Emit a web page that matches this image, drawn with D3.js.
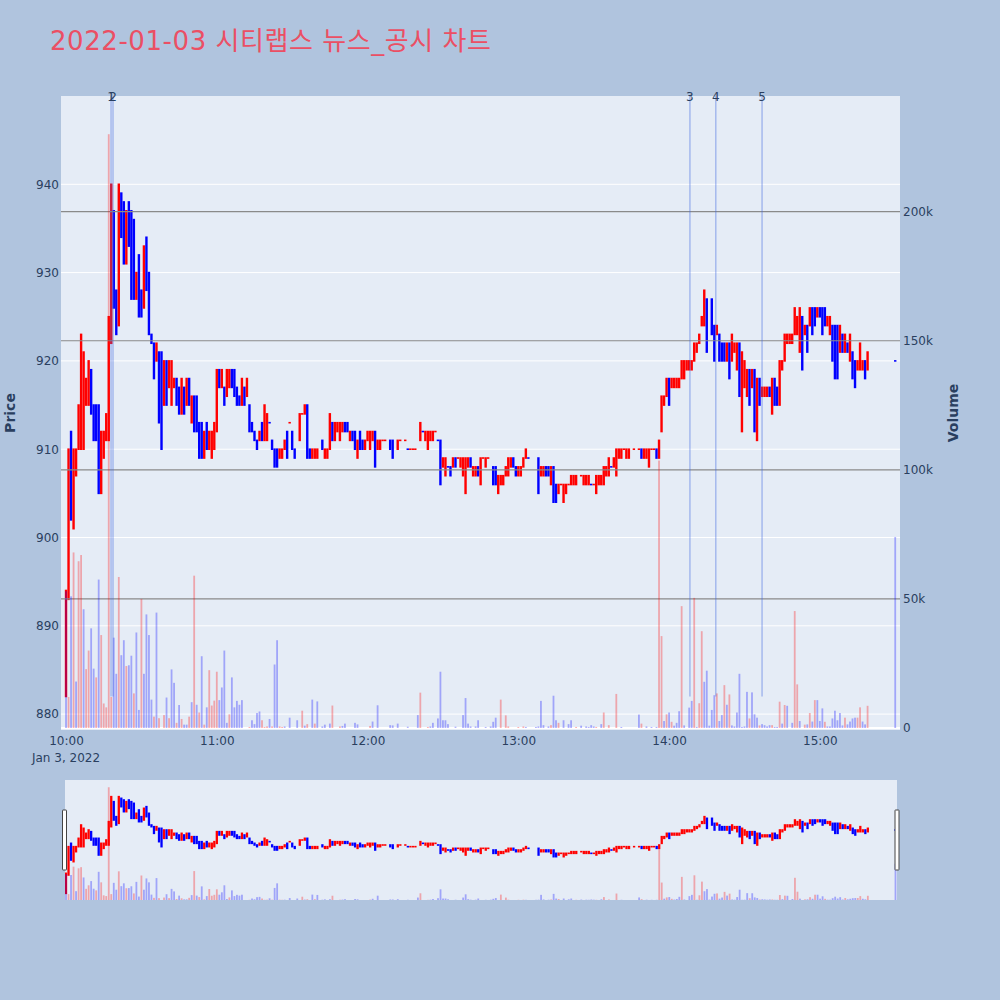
<!DOCTYPE html>
<html><head><meta charset="utf-8">
<script src="https://cdn.jsdelivr.net/npm/d3@7/dist/d3.min.js"></script>
<style>
body{margin:0;background:#b0c4de;}
svg{display:block;font-family:"DejaVu Sans","Noto Sans CJK KR",sans-serif;}
</style></head>
<body><svg id="c" width="1000" height="1000"></svg>
<script>
const titleText = "2022-01-03 시티랩스 뉴스_공시 차트";
const sessionDay = "2022-01-03";
const sessionStart = "2022-01-03 10:00:00";
const dateLabel = "Jan 3, 2022";
// [minute after 10:00, open, high, low, close]
const candles = [
[0,882,894,882,894],[1,893,910,893,909],[2,912,912,902,903],[3,903,910,901,909],[4,907,910,907,910],
[5,910,915,910,915],[6,910,923,910,921],[7,911,921,910,918],[8,915,918,915,918],[9,915,920,915,920],
[10,919,919,914,914],[11,915,915,911,911],[12,915,915,911,912],[13,915,915,905,905],[14,905,912,905,909],
[15,909,912,909,912],[16,911,914,911,914],[17,911,925,911,925],[18,922,940,922,938],[19,937,937,926,927],
[20,928,928,923,926],[21,924,940,924,940],[22,939,939,934,934],[23,938,938,931,931],[24,931,937,931,937],
[25,938,938,933,933],[26,937,937,927,927],[27,936,936,927,927],[28,927,930,927,930],[29,932,932,925,925],
[30,928,928,925,925],[31,926,933,926,933],[32,934,934,928,928],[33,930,930,923,923],[34,923,923,922,922],
[35,922,922,918,918],[36,920,922,920,922],[37,921,921,913,913],[38,921,921,910,910],[39,915,920,915,920],
[40,920,920,915,915],[41,917,920,917,920],[42,915,920,915,920],[43,917,918,917,918],[44,918,918,915,915],
[45,917,917,914,914],[46,914,918,914,918],[47,917,917,914,914],[48,915,918,915,918],[49,918,918,915,915],
[50,913,916,913,916],[51,916,916,912,912],[52,916,916,912,912],[53,913,913,909,909],[54,913,913,909,909],
[55,909,912,909,912],[56,913,913,910,910],[57,910,912,910,912],[58,909,912,909,911],[59,910,913,910,913],
[60,913,919,912,919],[61,919,919,917,917],[62,917,919,917,919],[63,917,917,915,915],[64,916,919,916,919],
[65,917,919,917,919],[66,919,919,917,917],[67,919,919,916,916],[68,917,917,915,915],[69,916,916,915,915],
[70,915,918,915,918],[71,917,917,915,915],[72,916,918,916,918],[73,915,915,912,912],[74,913,913,912,912],
[75,912,912,911,911],[76,911,911,910,910],[77,911,912,911,912],[78,913,913,911,911],[79,911,915,911,915],
[80,911,914,911,914],[81,913,913,913,913],[82,911,911,910,910],[83,910,910,908,908],[84,910,910,908,908],
[85,909,910,909,910],[86,909,910,909,910],[87,910,911,910,911],[88,912,912,909,909],[89,913,913,913,913],
[90,912,912,910,910],[91,910,910,909,909],[93,911,914,911,914],[94,914,914,914,914],
[95,914,915,914,915],[96,915,915,909,909],[97,910,910,909,909],[98,909,910,909,910],[99,909,910,909,910],
[100,909,910,909,910],[102,911,911,910,910],[103,909,910,909,910],[104,909,910,909,910],
[105,910,914,910,914],[106,913,913,911,911],[107,911,913,911,913],[108,912,913,912,913],[109,911,913,911,913],
[110,912,913,912,913],[111,913,913,912,912],[112,913,913,912,912],[113,911,912,911,912],[114,912,912,911,911],
[115,912,912,910,910],[116,909,911,909,911],[117,912,912,910,910],[118,911,911,910,910],[119,910,911,910,911],
[120,911,912,911,912],[121,910,912,910,912],[122,911,912,911,912],[123,912,912,908,911],[124,910,911,910,911],
[125,910,911,910,911],[126,911,911,911,911],[127,911,911,911,911],[129,911,911,910,910],
[130,911,911,909,909],[132,910,911,910,911],[133,911,911,911,911],
[135,911,911,911,911],[136,910,910,910,910],[137,910,910,910,910],[138,910,910,910,910],[139,910,910,910,910],
[141,911,913,911,913],[142,912,912,912,912],[143,911,912,911,912],[144,910,912,910,912],
[145,911,912,911,912],[146,911,912,911,912],[147,912,912,912,912],[148,911,911,911,911],[149,911,911,906,906],
[150,908,909,908,909],[151,907,909,907,909],[152,908,908,908,908],[153,908,908,907,907],[154,908,909,908,909],
[155,909,909,908,908],[156,909,909,909,909],[157,908,909,908,909],[158,907,909,907,909],[159,907,909,905,909],
[160,908,909,908,909],[161,909,909,908,908],[162,907,908,907,908],[163,907,908,907,908],[164,908,908,907,907],
[165,906,909,906,909],[166,909,909,909,909],[167,908,909,908,909],[168,909,909,909,909],
[170,908,908,906,906],[171,908,908,906,906],[172,905,907,905,907],[173,906,907,906,907],[174,906,907,906,907],
[175,907,908,907,908],[176,907,909,907,909],[177,908,909,908,909],[178,909,909,908,908],[179,908,908,907,907],
[180,907,908,907,908],[181,907,908,907,908],[182,908,909,908,909],[183,909,910,909,910],[184,909,909,909,909],
[188,909,909,905,905],[189,907,908,907,908],
[190,907,908,907,908],[191,908,908,907,907],[192,908,908,907,907],[193,906,908,906,908],[194,908,908,904,904],
[195,906,906,904,904],[196,905,906,905,906],[197,906,906,906,906],[198,904,906,904,906],[199,905,906,905,906],
[200,906,906,906,906],[201,906,907,906,907],[202,906,907,906,907],[203,906,907,906,907],
[205,907,907,907,907],[206,906,907,906,907],[207,906,907,906,907],[208,906,907,906,907],[209,906,906,906,906],
[210,906,906,906,906],[211,905,907,905,907],[212,906,907,906,907],[213,906,907,906,907],[214,906,908,906,908],
[215,907,908,907,908],[216,907,909,907,909],[217,908,908,908,908],[218,908,909,908,909],[219,907,910,907,910],
[220,909,910,909,910],[221,909,910,909,910],[222,910,910,910,910],[223,909,910,909,910],[224,909,910,909,910],
[226,910,910,910,910],[228,910,910,910,910],[229,910,910,909,909],
[230,909,910,909,910],[231,909,910,909,910],[232,908,910,908,910],[233,910,910,910,910],[234,910,910,910,910],
[235,910,910,909,909],[236,909,911,909,911],[237,912,916,912,916],[238,915,916,915,916],[239,916,918,916,918],
[240,918,918,915,915],[241,917,918,917,918],[242,917,918,917,918],[243,917,918,917,918],[244,917,918,917,918],
[245,918,920,918,920],[246,918,920,918,920],[247,919,920,919,920],[248,919,920,919,920],[249,919,920,919,920],
[250,920,922,920,922],[251,921,922,921,922],[252,922,923,922,923],[253,924,925,924,925],[254,924,928,924,928],
[255,927,927,921,921],[257,927,927,923,923],[258,924,924,920,920],[259,923,924,923,924],
[260,923,923,920,920],[261,922,922,920,920],[262,922,922,920,920],[263,920,922,920,922],[264,922,922,918,918],
[265,920,923,920,923],[266,921,922,921,922],[267,919,922,919,922],[268,922,922,916,916],[269,912,921,912,921],
[270,917,920,917,920],[271,916,919,916,919],[272,919,919,915,915],[273,917,919,917,919],[274,919,919,912,912],
[275,911,918,911,918],[276,918,918,915,915],[277,916,917,916,917],[278,916,917,916,917],[279,916,917,916,917],
[280,917,917,916,916],[281,914,918,914,918],[282,918,918,915,915],[283,917,917,915,915],[284,915,920,915,920],
[285,919,920,919,920],[286,920,923,920,923],[287,922,923,922,923],[288,922,923,922,923],[289,922,923,922,923],
[290,923,926,923,926],[291,923,925,923,925],[292,921,926,921,926],[293,925,925,919,919],[294,923,924,923,924],
[295,924,924,921,921],[296,924,926,924,926],[297,926,926,923,923],[298,926,926,924,924],[299,925,926,925,926],
[300,926,926,925,925],[301,926,926,923,923],[302,926,926,924,924],[303,924,925,924,925],[304,923,925,923,925],
[305,924,924,920,920],[306,924,924,918,918],[307,924,924,918,918],[308,921,924,921,924],[309,923,923,921,921],
[310,921,923,921,923],[311,922,922,921,921],[312,920,923,920,923],[313,921,921,918,918],[314,920,920,917,917],
[315,919,920,919,920],[316,919,922,919,922],[317,919,920,919,920],[318,920,920,918,918],[319,919,921,919,921],
[330,920,920,920,920]
];
// [minute after 10:00, volume, side r=up b=down]
const volumes = [
[0,53000,"b"],[1,12000,"r"],[2,51000,"b"],[3,68000,"r"],[4,18000,"b"],[5,64600,"r"],[6,67000,"r"],[7,46000,"b"],
[8,22800,"r"],[9,30000,"r"],[10,38600,"b"],[11,23000,"b"],[12,19600,"r"],[13,57500,"b"],[14,36000,"r"],
[15,9500,"r"],[16,8000,"r"],[17,230000,"r"],[18,12000,"r"],[19,35000,"b"],[20,21000,"b"],[21,58500,"r"],
[22,28200,"b"],[23,34000,"b"],[24,24000,"r"],[25,24300,"b"],[26,28000,"b"],[27,13400,"r"],[28,37000,"b"],
[29,7000,"b"],[30,50000,"r"],[31,21000,"b"],[32,44000,"b"],[33,36000,"b"],[34,11000,"b"],[35,4400,"r"],
[36,44700,"b"],[37,3800,"r"],[39,5000,"r"],[40,11800,"b"],[41,3800,"r"],[42,22700,"b"],[43,17500,"b"],
[44,2000,"r"],[45,8900,"b"],[46,3500,"r"],[47,1300,"b"],[48,1300,"b"],[49,4400,"r"],[50,10000,"b"],
[51,59000,"r"],[52,9000,"b"],[53,6000,"r"],[54,27800,"b"],[55,1300,"r"],[56,8000,"b"],[57,22400,"r"],
[58,8700,"r"],[59,10600,"r"],[60,21800,"r"],[61,10800,"b"],[62,15700,"b"],[63,30000,"b"],[64,2000,"b"],
[65,5300,"r"],[66,19600,"b"],[67,8000,"b"],[68,10500,"b"],[69,9000,"b"],[70,10800,"b"],[73,400,"r"],
[74,3000,"b"],[75,1500,"b"],[76,5800,"b"],[77,6400,"b"],[78,3000,"r"],[79,400,"r"],[80,600,"r"],[81,3500,"b"],
[82,600,"r"],[83,24600,"b"],[84,34000,"b"],[85,600,"r"],[86,400,"r"],[87,600,"b"],[89,4000,"b"],[92,3000,"b"],
[94,6700,"r"],[95,900,"b"],[96,1500,"r"],[98,11000,"b"],[99,1700,"r"],[100,10300,"b"],[102,600,"b"],
[103,1300,"b"],[105,1700,"b"],[106,8700,"r"],[109,600,"r"],[110,800,"b"],[111,1700,"b"],[115,2000,"b"],
[116,1400,"b"],[121,800,"r"],[122,2500,"b"],[124,8800,"b"],[129,1100,"b"],[130,1000,"b"],[132,1700,"b"],
[136,500,"b"],[140,5000,"b"],[141,13700,"r"],[144,400,"r"],[145,600,"b"],[146,2000,"b"],[148,3700,"b"],
[149,21800,"b"],[150,3000,"b"],[151,3000,"b"],[152,1500,"b"],[155,500,"b"],[158,5000,"b"],[159,11600,"b"],
[160,1700,"b"],[161,600,"b"],[163,600,"b"],[164,3000,"b"],[167,400,"b"],[169,600,"b"],[170,2400,"b"],
[171,4000,"b"],[173,11000,"r"],[175,4900,"r"],[176,600,"r"],[180,400,"r"],[182,600,"r"],[183,400,"b"],
[187,400,"b"],[188,600,"b"],[189,10500,"b"],[190,1100,"b"],[192,600,"b"],[193,1100,"r"],[194,12500,"b"],
[195,3000,"b"],[196,2000,"r"],[198,3000,"b"],[200,1500,"b"],[201,3000,"b"],[203,400,"r"],[205,900,"b"],
[207,600,"b"],[208,400,"b"],[209,1100,"b"],[210,600,"b"],[211,400,"r"],[213,1500,"b"],[214,6000,"r"],
[216,1100,"r"],[219,13200,"r"],[221,400,"b"],[228,5200,"b"],[229,1700,"r"],[231,600,"b"],[233,400,"b"],
[235,400,"b"],[236,103600,"r"],[237,35600,"r"],[238,2700,"b"],[239,5300,"r"],[240,6000,"b"],[241,2400,"r"],
[242,900,"b"],[243,2000,"b"],[244,6500,"b"],[245,47200,"r"],[246,1000,"b"],[248,7900,"b"],[249,10500,"b"],
[250,50400,"r"],[251,400,"b"],[252,9600,"r"],[253,37500,"r"],[254,17900,"b"],[255,22200,"b"],[256,900,"b"],
[257,7000,"b"],[258,12700,"b"],[259,13400,"r"],[260,2700,"b"],[261,5000,"b"],[262,16600,"r"],[263,9000,"b"],
[264,13000,"r"],[265,1000,"b"],[266,600,"b"],[267,6000,"b"],[268,21000,"b"],[269,400,"b"],[270,600,"b"],
[271,14000,"b"],[272,3700,"r"],[273,13800,"b"],[274,5300,"b"],[275,4000,"b"],[276,1000,"r"],[277,1500,"b"],
[278,1100,"b"],[279,600,"b"],[280,1100,"b"],[281,1100,"r"],[282,400,"b"],[283,400,"b"],[284,10200,"r"],
[285,1700,"b"],[286,8900,"r"],[287,8600,"b"],[289,2000,"b"],[290,45300,"r"],[291,16900,"r"],[292,2700,"b"],
[294,1300,"r"],[295,1400,"b"],[296,5800,"r"],[297,2500,"b"],[298,10800,"r"],[299,10800,"b"],[300,2700,"b"],
[301,7600,"b"],[302,2400,"r"],[303,600,"b"],[304,600,"b"],[305,3700,"b"],[306,6700,"b"],[307,3000,"b"],
[308,5800,"b"],[309,1000,"b"],[310,4000,"r"],[311,1400,"b"],[312,2500,"b"],[313,3700,"b"],[314,4000,"b"],
[315,4000,"r"],[316,8000,"r"],[317,2500,"b"],[318,1400,"b"],[319,8600,"r"],[330,74000,"b"]
];
const priceTicks = [880, 890, 900, 910, 920, 930, 940];
const volumeTicks = [0, 50000, 100000, 150000, 200000];
const volumeTickLabels = ["0", "50k", "100k", "150k", "200k"];
const timeTicks = ["10:00", "11:00", "12:00", "13:00", "14:00", "15:00"];
const markerTimes = ["10:17:55", "10:18:42", "14:08:18", "14:18:36", "14:37:00"];
const markerLabels = ["1", "2", "3", "4", "5"];

const parseFull = d3.timeParse("%Y-%m-%d %H:%M:%S");
const base = parseFull(sessionStart);
const tAt = m => new Date(+base + m * 60000);
const tOf = s => parseFull(sessionDay + " " + (s.length === 5 ? s + ":00" : s));

const UP = "#ff0000", DOWN = "#0000ff", TXT = "#2a3f5f";
const FONT = "'DejaVu Sans', sans-serif";
const svg = d3.select("#c");

const x = d3.scaleTime().domain([tAt(-2), tAt(331.9)]).range([61, 900]);
const yP = d3.scaleLinear().domain([878.2, 950]).range([730, 96]);
const yV = d3.scaleLinear().domain([0, 244800]).range([728, 96]);

function isUp(i) {
  const d = candles[i];
  if (d[4] > d[1]) return true;
  if (d[4] < d[1]) return false;
  const prev = i > 0 ? candles[i - 1][4] : d[4];
  return d[4] >= prev;
}

// title
svg.append("text").attr("x", 50).attr("y", 50).attr("font-size", 26)
  .attr("textLength", 441).attr("lengthAdjust", "spacing")
  .attr("fill", "#eb4f64").text(titleText);

// plot background
svg.append("rect").attr("x", 61).attr("y", 96).attr("width", 839).attr("height", 634).attr("fill", "#e5ecf6");
svg.append("clipPath").attr("id", "clipMain").append("rect")
  .attr("x", 61).attr("y", 96).attr("width", 839).attr("height", 634);

const plot = svg.append("g").attr("clip-path", "url(#clipMain)");

// price gridlines
plot.append("g").selectAll("line").data(priceTicks).join("line")
  .attr("x1", 61).attr("x2", 900).attr("y1", d => yP(d)).attr("y2", d => yP(d))
  .attr("stroke", "#fff").attr("stroke-width", 1);

function drawCandles(g, xs, ys, w) {
  g.selectAll("rect").data(candles).join("rect")
    .attr("x", d => xs(tAt(d[0])) - w / 2)
    .attr("y", d => ys(d[2]) - 0.8)
    .attr("width", w)
    .attr("height", d => ys(d[3]) - ys(d[2]) + 1.6)
    .attr("fill", (d, i) => isUp(i) ? UP : DOWN);
}
function drawVolumes(g, xs, yv, w) {
  g.selectAll("rect").data(volumes).join("rect")
    .attr("x", d => xs(tAt(d[0])) - w / 2)
    .attr("width", w)
    .attr("y", d => yv(d[1]))
    .attr("height", d => yv(0) - yv(d[1]))
    .attr("fill", d => d[2] === "r" ? UP : DOWN)
    .attr("fill-opacity", 0.3);
}

drawCandles(plot.append("g"), x, yP, 2.4);

// volume gridlines
plot.append("g").selectAll("line").data(volumeTicks.slice(1)).join("line")
  .attr("x1", 61).attr("x2", 900).attr("y1", d => yV(d)).attr("y2", d => yV(d))
  .attr("stroke", "#8a8a8a").attr("stroke-width", 1.1);
plot.append("line").attr("x1", 61).attr("x2", 900).attr("y1", yV(0)).attr("y2", yV(0))
  .attr("stroke", "#fff").attr("stroke-width", 2);

drawVolumes(plot.append("g"), x, yV, 1.8);

// news / disclosure markers
const minLow = d3.min(candles, d => d[3]);
const mk = svg.append("g");
mk.selectAll("line").data(markerTimes).join("line")
  .attr("x1", d => x(tOf(d))).attr("x2", d => x(tOf(d)))
  .attr("y1", yP(950)).attr("y2", yP(minLow))
  .attr("stroke", "#4169e1").attr("stroke-opacity", 0.45).attr("stroke-width", 1.3);
mk.selectAll("text").data(markerTimes).join("text")
  .attr("x", d => x(tOf(d))).attr("y", 101).attr("text-anchor", "middle")
  .attr("font-size", 12).attr("fill", TXT).attr("font-family", FONT).text((d, i) => markerLabels[i]);

// axes
const axL = svg.append("g").attr("transform", "translate(61,0)")
  .call(d3.axisLeft(yP).tickValues(priceTicks).tickSize(0).tickPadding(2));
const axR = svg.append("g").attr("transform", "translate(900,0)")
  .call(d3.axisRight(yV).tickValues(volumeTicks).tickSize(0).tickPadding(3)
    .tickFormat((d, i) => volumeTickLabels[i]));
const axB = svg.append("g").attr("transform", "translate(0,730)")
  .call(d3.axisBottom(x).tickValues(timeTicks.map(tOf)).tickSize(0).tickPadding(6)
    .tickFormat(d3.timeFormat("%H:%M")));
[axL, axR, axB].forEach(a => {
  a.select(".domain").remove();
  a.selectAll("text").attr("font-size", 12).attr("fill", TXT).attr("font-family", FONT);
});
svg.append("text").attr("x", x(tOf(timeTicks[0]))).attr("y", 762).attr("text-anchor", "middle")
  .attr("font-size", 12).attr("fill", TXT).attr("font-family", FONT).text(dateLabel);

// axis titles
svg.append("text").attr("transform", "translate(15,413) rotate(-90)").attr("text-anchor", "middle")
  .attr("font-size", 14).attr("font-weight", "bold").attr("fill", TXT).attr("font-family", FONT).text("Price");
svg.append("text").attr("transform", "translate(958,413) rotate(-90)").attr("text-anchor", "middle")
  .attr("font-size", 14).attr("font-weight", "bold").attr("fill", TXT).attr("font-family", FONT).text("Volume");

// range slider
const xs = d3.scaleTime().domain([tAt(-0.4), tAt(330.6)]).range([65, 897]);
const yPs = d3.scaleLinear().domain([878, 950]).range([900, 780]);
const yVs = d3.scaleLinear().domain([0, 244800]).range([900, 780]);
svg.append("rect").attr("x", 65).attr("y", 780).attr("width", 832).attr("height", 120).attr("fill", "#e5ecf6");
svg.append("clipPath").attr("id", "clipS").append("rect")
  .attr("x", 65).attr("y", 780).attr("width", 832).attr("height", 120);
const sl = svg.append("g").attr("clip-path", "url(#clipS)");
drawCandles(sl.append("g"), xs, yPs, 2.3);
drawVolumes(sl.append("g"), xs, yVs, 1.8);
[62.5, 895].forEach(hx => {
  svg.append("rect").attr("x", hx).attr("y", 810).attr("width", 4).attr("height", 60)
    .attr("fill", "#fff").attr("stroke", "#444").attr("stroke-width", 1).attr("rx", 0.5);
});
</script></body></html>
